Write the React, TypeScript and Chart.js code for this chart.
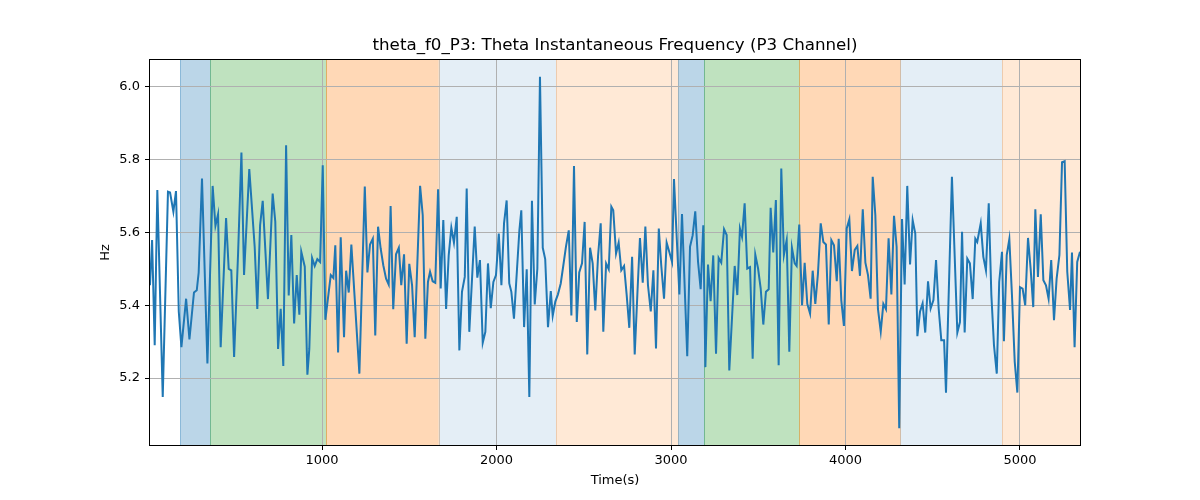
import React, { useEffect, useRef } from "react";
import { Chart, registerables } from "chart.js";

Chart.register(...registerables);

const TITLE = "theta_f0_P3: Theta Instantaneous Frequency (P3 Channel)";
const X_LABEL = "Time(s)";
const Y_LABEL = "Hz";

const TIMES = [
  14, 26, 41, 56, 87, 117, 129, 148, 163, 179, 194, 221, 240, 266, 282, 293, 312, 343, 373, 389, 404, 419, 450, 465, 480, 496, 519, 538,
  553, 583, 614, 629, 645, 660, 690, 717, 732, 748, 763, 778, 794, 809, 824, 840, 855, 870, 881, 901, 916, 927, 943, 958, 973, 989, 1004, 1019, 1050, 1065, 1076,
  1092, 1107, 1126, 1138, 1153, 1168, 1214, 1245, 1260, 1275, 1291, 1305, 1321, 1336, 1351, 1367, 1382, 1393, 1408, 1424, 1440, 1454, 1470, 1485, 1500, 1516, 1531, 1562, 1577, 1592,
  1607, 1619, 1634, 1649, 1665, 1680, 1695, 1711, 1726, 1741, 1756, 1772, 1787, 1802, 1818, 1829, 1844, 1875, 1890, 1905, 1921, 1936, 1951, 1967, 1982, 1997, 2013, 2028, 2043, 2058, 2073, 2085, 2100, 2131,
  2142, 2158, 2173, 2188, 2203, 2219, 2234, 2249, 2265, 2279, 2295, 2311, 2322, 2337, 2352, 2368, 2383, 2398, 2414, 2429, 2444, 2460, 2474, 2490, 2505, 2520, 2536, 2551, 2566, 2582, 2597, 2612, 2628, 2643, 2658,
  2669, 2685, 2700, 2715, 2731, 2746, 2761, 2777, 2792, 2807, 2822, 2838, 2853, 2868, 2884, 2899, 2914, 2930, 2944, 2960, 2975, 2990, 3006, 3017, 3048, 3063, 3093, 3109, 3124, 3139, 3155, 3170, 3185,
  3197, 3212, 3227, 3242, 3258, 3273, 3288, 3304, 3319, 3334, 3365, 3380, 3395, 3407, 3422, 3437, 3453, 3468, 3483, 3499, 3514, 3529, 3544, 3560, 3571, 3586, 3601, 3617, 3632, 3647, 3663, 3678, 3693,
  3709, 3720, 3735, 3751, 3766, 3781, 3797, 3812, 3827, 3842, 3858, 3873, 3888, 3904, 3919, 3934, 3950, 3961, 3976, 3991, 4007, 4022, 4037, 4053, 4068, 4083, 4099, 4114, 4129, 4144, 4156, 4171, 4186, 4202, 4217, 4232,
  4247, 4263, 4278, 4293, 4308, 4324, 4339, 4354, 4370, 4385, 4400, 4412, 4427, 4442, 4457, 4473, 4488, 4504, 4519, 4534, 4549, 4565, 4576, 4610, 4641, 4656, 4668, 4683, 4698, 4713, 4729, 4744, 4755,
  4775, 4790, 4805, 4821, 4836, 4851, 4867, 4881, 4897, 4908, 4924, 4939, 4954, 4970, 4985, 5000, 5015, 5030, 5046, 5061, 5076, 5088, 5103, 5119, 5134, 5149, 5164, 5179, 5195, 5210, 5226, 5241, 5256, 5271, 5287, 5298, 5313, 5328, 5344,
];

const VALUES = [
  5.455, 5.579, 5.29, 5.717, 5.148, 5.712, 5.71, 5.657, 5.714, 5.382, 5.285, 5.418, 5.306, 5.435, 5.441, 5.49, 5.748, 5.24, 5.728, 5.618, 5.65, 5.285, 5.64, 5.5, 5.496, 5.258, 5.545, 5.82,
  5.483, 5.774, 5.56, 5.39, 5.62, 5.687, 5.417, 5.707, 5.63, 5.28, 5.39, 5.233, 5.84, 5.427, 5.593, 5.35, 5.483, 5.374, 5.547, 5.506, 5.209, 5.28, 5.53, 5.508, 5.527, 5.519, 5.785, 5.36, 5.483, 5.475, 5.565,
  5.27, 5.587, 5.312, 5.495, 5.435, 5.567, 5.212, 5.726, 5.49, 5.567, 5.583, 5.317, 5.616, 5.556, 5.51, 5.473, 5.457, 5.673, 5.389, 5.54, 5.558, 5.455, 5.54, 5.294, 5.514, 5.455, 5.312, 5.728, 5.648, 5.308,
  5.464, 5.492, 5.466, 5.462, 5.719, 5.446, 5.634, 5.39, 5.538, 5.613, 5.572, 5.643, 5.276, 5.437, 5.478, 5.721, 5.327, 5.616, 5.476, 5.524, 5.297, 5.327, 5.515, 5.392, 5.464, 5.483, 5.597, 5.455, 5.625, 5.688, 5.46, 5.437, 5.363, 5.606,
  5.661, 5.34, 5.499, 5.148, 5.687, 5.402, 5.501, 6.028, 5.558, 5.527, 5.34, 5.439, 5.371, 5.41, 5.43, 5.46, 5.51, 5.561, 5.606, 5.372, 5.783, 5.354, 5.49, 5.515, 5.629, 5.265, 5.558, 5.515, 5.386, 5.536, 5.625, 5.327, 5.515, 5.499, 5.671,
  5.661, 5.542, 5.572, 5.496, 5.508, 5.428, 5.338, 5.533, 5.265, 5.428, 5.585, 5.462, 5.616, 5.455, 5.383, 5.496, 5.281, 5.611, 5.51, 5.418, 5.572, 5.547, 5.519, 5.747, 5.43, 5.651, 5.26, 5.561, 5.592, 5.658, 5.519, 5.444, 5.62,
  5.23, 5.512, 5.411, 5.537, 5.267, 5.53, 5.517, 5.609, 5.593, 5.221, 5.508, 5.428, 5.611, 5.588, 5.68, 5.501, 5.505, 5.253, 5.539, 5.501, 5.446, 5.347, 5.437, 5.444, 5.668, 5.545, 5.689, 5.235, 5.776, 5.538, 5.579, 5.272, 5.558,
  5.515, 5.508, 5.622, 5.4, 5.517, 5.404, 5.377, 5.495, 5.404, 5.486, 5.625, 5.574, 5.567, 5.347, 5.579, 5.565, 5.466, 5.583, 5.413, 5.343, 5.611, 5.636, 5.494, 5.552, 5.563, 5.481, 5.664, 5.517, 5.483, 5.418, 5.753, 5.648, 5.39, 5.328, 5.404, 5.389,
  5.584, 5.43, 5.646, 5.561, 5.062, 5.637, 5.457, 5.728, 5.512, 5.634, 5.597, 5.315, 5.382, 5.405, 5.325, 5.466, 5.391, 5.414, 5.524, 5.391, 5.304, 5.304, 5.16, 5.753, 5.325, 5.354, 5.602, 5.325, 5.528, 5.515, 5.417, 5.583, 5.574,
  5.625, 5.533, 5.496, 5.68, 5.428, 5.29, 5.212, 5.464, 5.547, 5.301, 5.538, 5.582, 5.428, 5.244, 5.16, 5.45, 5.446, 5.4, 5.585, 5.501, 5.395, 5.664, 5.478, 5.65, 5.469, 5.455, 5.418, 5.524, 5.359, 5.473, 5.538, 5.793, 5.796, 5.492, 5.387, 5.545, 5.285, 5.519, 5.547,
];

const SPAN_STARTS = [186, 360, 1023, 1669, 2341, 3042, 3191, 3735, 4314, 4897];
const SPAN_ENDS = [360, 1023, 1669, 2341, 3042, 3191, 3735, 4314, 4897, 5400];
const SPAN_COLORS = [
  "rgba(31,119,180,0.3)",
  "rgba(44,160,44,0.3)",
  "rgba(255,127,14,0.3)",
  "rgba(31,119,180,0.12)",
  "rgba(255,127,14,0.17)",
  "rgba(31,119,180,0.3)",
  "rgba(44,160,44,0.3)",
  "rgba(255,127,14,0.3)",
  "rgba(31,119,180,0.12)",
  "rgba(255,127,14,0.17)",
];

const X_MIN = 14;
const X_MAX = 5344;
const Y_MIN = 5.016;
const Y_MAX = 6.074;
const X_TICKS = [1000, 2000, 3000, 4000, 5000];
const Y_TICKS = [5.2, 5.4, 5.6, 5.8, 6.0];

const FONT = "'DejaVu Sans', 'Liberation Sans', sans-serif";

const decorPlugin = {
  id: "decor",
  beforeDraw(chart: any) {
    const { ctx, chartArea } = chart;
    const xs = chart.scales.x;
    ctx.save();
    ctx.beginPath();
    ctx.rect(chartArea.left, chartArea.top, chartArea.right - chartArea.left, chartArea.bottom - chartArea.top);
    ctx.clip();
    for (let i = 0; i < SPAN_STARTS.length; i++) {
      const x1 = xs.getPixelForValue(SPAN_STARTS[i]);
      const x2 = xs.getPixelForValue(SPAN_ENDS[i]);
      ctx.fillStyle = SPAN_COLORS[i];
      ctx.fillRect(x1, chartArea.top, x2 - x1, chartArea.bottom - chartArea.top);
      ctx.strokeStyle = SPAN_COLORS[i];
      ctx.lineWidth = 1;
      ctx.beginPath();
      ctx.moveTo(Math.round(x1) + 0.5, chartArea.top);
      ctx.lineTo(Math.round(x1) + 0.5, chartArea.bottom);
      ctx.moveTo(Math.round(x2) + 0.5, chartArea.top);
      ctx.lineTo(Math.round(x2) + 0.5, chartArea.bottom);
      ctx.stroke();
    }
    ctx.restore();
  },
  afterDraw(chart: any) {
    const { ctx, chartArea } = chart;
    ctx.save();
    ctx.strokeStyle = "#000";
    ctx.lineWidth = 1;
    ctx.strokeRect(
      Math.round(chartArea.left) - 0.5,
      Math.round(chartArea.top) - 0.5,
      Math.round(chartArea.right - chartArea.left) + 1,
      Math.round(chartArea.bottom - chartArea.top) + 1
    );
    const cx = (chartArea.left + chartArea.right) / 2;
    const cy = (chartArea.top + chartArea.bottom) / 2;
    ctx.fillStyle = "#000";
    ctx.textAlign = "center";
    ctx.textBaseline = "middle";
    ctx.font = `16.7px ${FONT}`;
    ctx.fillText(TITLE, cx, 46);
    ctx.font = `13px ${FONT}`;
    ctx.fillText(X_LABEL, cx, 481);
    ctx.translate(106, cy);
    ctx.rotate(-Math.PI / 2);
    ctx.fillText(Y_LABEL, 0, 0);
    ctx.restore();
  },
};

export default function App() {
  const canvasRef = useRef<HTMLCanvasElement | null>(null);

  useEffect(() => {
    document.body.style.margin = "0";
    const canvas = canvasRef.current;
    if (!canvas) return;
    const points = TIMES.map((t, i) => ({ x: t, y: VALUES[i] }));
    const chart = new Chart(canvas, {
      type: "line",
      data: {
        datasets: [
          {
            data: points,
            borderColor: "#1f77b4",
            borderWidth: 2,
            pointRadius: 0,
            tension: 0,
            fill: false,
          },
        ],
      },
      options: {
        animation: false,
        responsive: false,
        devicePixelRatio: 1,
        layout: { padding: { left: 0, right: 120, top: 60, bottom: 0 } },
        plugins: {
          legend: { display: false },
          title: { display: false },
          tooltip: { enabled: false },
        },
        scales: {
          x: {
            type: "linear",
            min: X_MIN,
            max: X_MAX,
            afterBuildTicks(scale: any) {
              scale.ticks = X_TICKS.map((v) => ({ value: v }));
            },
            afterFit(scale: any) {
              scale.height = 55;
            },
            ticks: {
              color: "#000",
              font: { family: FONT, size: 13 },
              padding: 3,
              maxRotation: 0,
              autoSkip: false,
              callback: (v: any) => String(Math.round(Number(v))),
            },
            grid: {
              color: "#b0b0b0",
              lineWidth: 1,
              tickLength: 5,
              tickColor: "#000",
              drawTicks: true,
            },
            border: { display: false },
          },
          y: {
            type: "linear",
            min: Y_MIN,
            max: Y_MAX,
            afterBuildTicks(scale: any) {
              scale.ticks = Y_TICKS.map((v) => ({ value: v }));
            },
            afterFit(scale: any) {
              scale.width = 150;
            },
            ticks: {
              color: "#000",
              font: { family: FONT, size: 13 },
              padding: 5,
              autoSkip: false,
              callback: (v: any) => Number(v).toFixed(1),
            },
            grid: {
              color: "#b0b0b0",
              lineWidth: 1,
              tickLength: 5,
              tickColor: "#000",
              drawTicks: true,
            },
            border: { display: false },
          },
        },
      },
      plugins: [decorPlugin],
    } as any);
    return () => chart.destroy();
  }, []);

  return (
    <div style={{ width: 1200, height: 500 }}>
      <canvas ref={canvasRef} width={1200} height={500} style={{ display: "block" }} />
    </div>
  );
}
